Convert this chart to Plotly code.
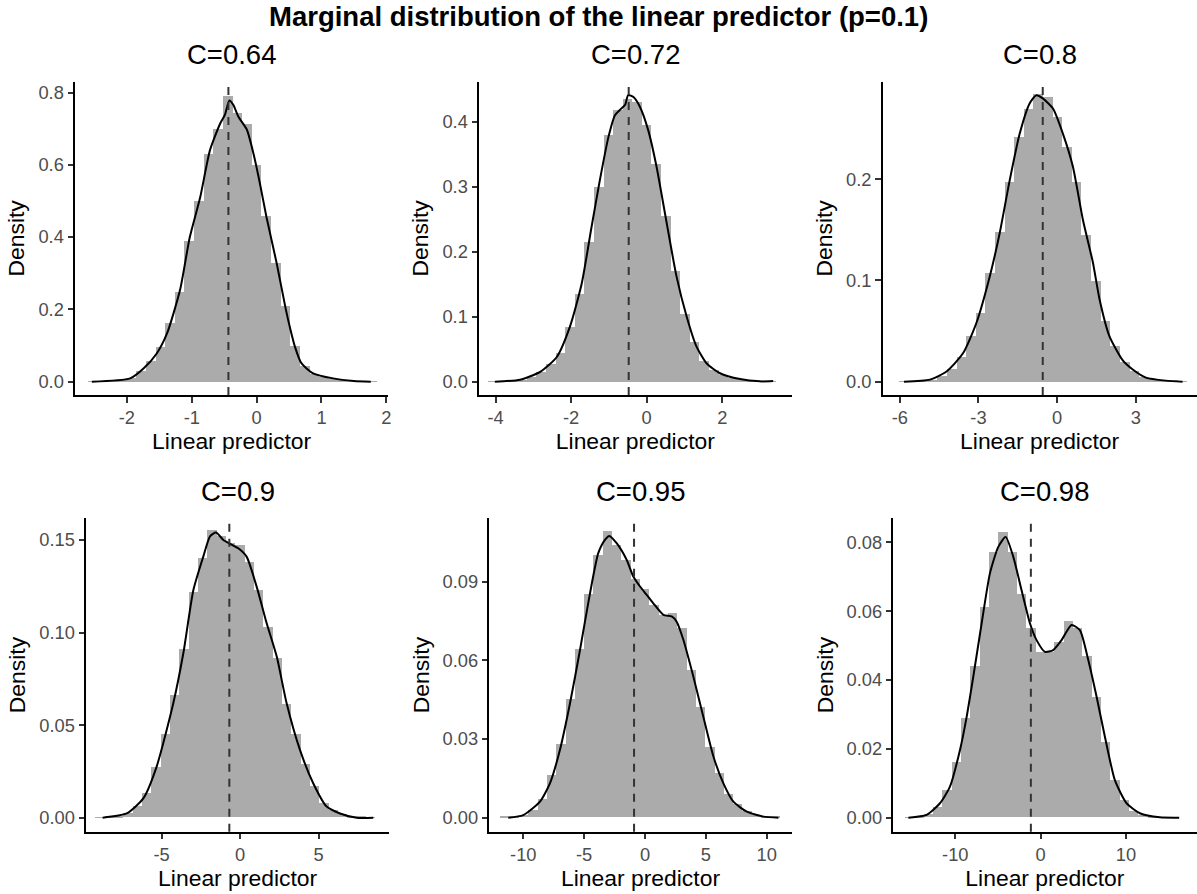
import plotly.graph_objects as go

# ---------------- data ----------------
main_title = "Marginal distribution of the linear predictor (p=0.1)"
panel_titles = ["C=0.64", "C=0.72", "C=0.8", "C=0.9", "C=0.95", "C=0.98"]
x_label = "Linear predictor"
y_label = "Density"

# mean of the linear predictor (dashed line)
means = [-0.435, -0.476, -0.55, -0.68, -0.90, -1.14]

# histogram: bin width, index of first bin centre (centre = index * width), heights
bin_widths = [0.1483, 0.254, 0.366, 0.594, 0.765, 1.095]
first_bin = [-17, -16, -16, -15, -15, -14]

hist_1 = [0.0005, 0.001, 0.003, 0.005, 0.011, 0.030, 0.058, 0.097, 0.162, 0.250,
          0.390, 0.500, 0.630, 0.700, 0.790, 0.745, 0.715, 0.600, 0.460, 0.330,
          0.210, 0.100, 0.043, 0.022, 0.014, 0.009, 0.005, 0.002, 0.001, 0.0005]
hist_2 = [0.0005, 0.001, 0.002, 0.003, 0.008, 0.016, 0.028, 0.045, 0.085, 0.135,
          0.215, 0.300, 0.380, 0.418, 0.435, 0.430, 0.395, 0.335, 0.255, 0.170,
          0.105, 0.062, 0.032, 0.018, 0.010, 0.006, 0.003, 0.002, 0.001, 0.0005]
hist_3 = [0.0003, 0.0005, 0.001, 0.002, 0.006, 0.013, 0.025, 0.045, 0.068, 0.108,
          0.148, 0.198, 0.242, 0.270, 0.285, 0.282, 0.262, 0.232, 0.198, 0.145,
          0.100, 0.060, 0.036, 0.020, 0.011, 0.005, 0.003, 0.0015, 0.001, 0.0003]
hist_4 = [0.0002, 0.0005, 0.001, 0.0025, 0.006, 0.013, 0.027, 0.045, 0.066, 0.091,
          0.122, 0.140, 0.155, 0.152, 0.148, 0.147, 0.138, 0.123, 0.103, 0.086,
          0.061, 0.045, 0.029, 0.017, 0.008, 0.004, 0.002, 0.001, 0.0005, 0.0002]
hist_5 = [0.0002, 0.0004, 0.001, 0.003, 0.007, 0.016, 0.028, 0.045, 0.064, 0.085,
          0.100, 0.109, 0.104, 0.098, 0.091, 0.087, 0.081, 0.077, 0.078, 0.072,
          0.056, 0.042, 0.027, 0.017, 0.009, 0.005, 0.0025, 0.001, 0.0005, 0.0002]
hist_6 = [0.0001, 0.0003, 0.001, 0.003, 0.008, 0.016, 0.029, 0.044, 0.061, 0.077,
          0.083, 0.077, 0.065, 0.055, 0.048, 0.048, 0.051, 0.057, 0.055, 0.047,
          0.035, 0.022, 0.011, 0.005, 0.002, 0.0008, 0.0003, 0.0001, 0.0001, 0.0]

# kernel density curves
dens_x_1 = [-2.54, -1.95, -1.74, -1.54, -1.38, -1.18, -1.03, -0.87, -0.72, -0.56,
            -0.49, -0.42, -0.36, -0.28, -0.15, -0.05, 0.05, 0.15, 0.31, 0.45,
            0.52, 0.59, 0.69, 0.87, 1.18, 1.50, 1.76]
dens_y_1 = [0.0, 0.009, 0.037, 0.078, 0.134, 0.254, 0.40, 0.51, 0.64, 0.715,
            0.738, 0.778, 0.766, 0.733, 0.697, 0.632, 0.549, 0.457, 0.327, 0.200,
            0.145, 0.097, 0.051, 0.023, 0.009, 0.002, 0.0]
dens_x_2 = [-4.02, -3.35, -2.82, -2.38, -2.03, -1.72, -1.46, -1.24, -1.01, -0.84,
            -0.71, -0.57, -0.49, -0.35, -0.18, 0.04, 0.26, 0.53, 0.79, 1.06,
            1.32, 1.59, 1.94, 2.47, 3.0, 3.35]
dens_y_2 = [0.0, 0.003, 0.015, 0.038, 0.085, 0.151, 0.238, 0.310, 0.377, 0.410,
            0.418, 0.426, 0.441, 0.438, 0.423, 0.387, 0.331, 0.244, 0.162, 0.100,
            0.054, 0.028, 0.013, 0.004, 0.0005, 0.001]
dens_x_3 = [-5.84, -4.85, -4.22, -3.59, -3.08, -2.57, -2.19, -1.81, -1.43, -1.05,
            -0.80, -0.55, -0.16, 0.22, 0.60, 0.98, 1.36, 1.61, 1.99, 2.50,
            2.88, 3.38, 4.14, 4.78]
dens_y_3 = [0.0, 0.002, 0.010, 0.028, 0.058, 0.104, 0.147, 0.199, 0.245, 0.275,
            0.283, 0.280, 0.270, 0.245, 0.2125, 0.160, 0.118, 0.082, 0.045, 0.021,
            0.012, 0.004, 0.001, 0.0]
dens_x_4 = [-8.75, -7.22, -6.16, -5.31, -4.25, -3.61, -2.97, -2.34, -1.91, -1.53,
            -1.06, -0.64, -0.11, 0.42, 1.06, 1.70, 2.34, 2.97, 3.82, 4.67,
            5.52, 6.37, 7.43, 8.49]
dens_y_4 = [0.0, 0.0023, 0.0104, 0.0276, 0.0618, 0.0888, 0.123, 0.141, 0.152, 0.154,
            0.150, 0.148, 0.1455, 0.141, 0.1248, 0.105, 0.087, 0.0618, 0.0366, 0.0185,
            0.006, 0.0023, 0.0, 0.0]
dens_x_5 = [-11.23, -10.0, -8.63, -7.81, -6.99, -6.16, -5.34, -4.52, -3.84, -3.29,
            -2.93, -2.33, -1.51, -0.96, -0.41, 0.14, 0.68, 1.51, 2.19, 2.60,
            3.15, 3.97, 4.79, 5.62, 6.44, 7.26, 8.36, 9.73, 10.96]
dens_y_5 = [0.0, 0.001, 0.0061, 0.0131, 0.0258, 0.0436, 0.0639, 0.0855, 0.1008, 0.1059,
            0.1074, 0.1046, 0.0983, 0.0919, 0.0881, 0.0849, 0.0817, 0.0773, 0.0767, 0.0747,
            0.0678, 0.0538, 0.0385, 0.0233, 0.0131, 0.0061, 0.0023, 0.0004, 0.0]
dens_x_6 = [-15.5, -13.36, -11.80, -10.63, -9.45, -8.67, -7.89, -6.91, -5.94, -4.96,
            -4.10, -3.20, -2.23, -1.25, -0.47, 0.51, 1.48, 2.46, 3.63, 4.61,
            5.59, 6.56, 7.54, 8.71, 10.08, 11.64, 13.98, 16.25]
dens_y_6 = [0.0, 0.0008, 0.0042, 0.0090, 0.0197, 0.0293, 0.041, 0.0565, 0.071, 0.0787,
            0.0816, 0.0758, 0.0661, 0.0565, 0.0516, 0.0482, 0.0487, 0.0516, 0.056, 0.0545,
            0.0458, 0.0352, 0.0235, 0.0109, 0.0042, 0.0013, 0.0001, 0.0]

# axis ticks
x_ticks = [[-2, -1, 0, 1, 2], [-4, -2, 0, 2], [-6, -3, 0, 3],
           [-5, 0, 5], [-10, -5, 0, 5, 10], [-10, 0, 10]]
x_tick_text = [["-2", "-1", "0", "1", "2"], ["-4", "-2", "0", "2"], ["-6", "-3", "0", "3"],
               ["-5", "0", "5"], ["-10", "-5", "0", "5", "10"], ["-10", "0", "10"]]
y_ticks = [[0, 0.2, 0.4, 0.6, 0.8], [0, 0.1, 0.2, 0.3, 0.4], [0, 0.1, 0.2],
           [0, 0.05, 0.10, 0.15], [0, 0.03, 0.06, 0.09], [0, 0.02, 0.04, 0.06, 0.08]]
y_tick_text = [["0.0", "0.2", "0.4", "0.6", "0.8"], ["0.0", "0.1", "0.2", "0.3", "0.4"],
               ["0.0", "0.1", "0.2"], ["0.00", "0.05", "0.10", "0.15"],
               ["0.00", "0.03", "0.06", "0.09"], ["0.00", "0.02", "0.04", "0.06", "0.08"]]

hists = [hist_1, hist_2, hist_3, hist_4, hist_5, hist_6]
dens_x = [dens_x_1, dens_x_2, dens_x_3, dens_x_4, dens_x_5, dens_x_6]
dens_y = [dens_y_1, dens_y_2, dens_y_3, dens_y_4, dens_y_5, dens_y_6]

# ---------------- layout geometry (pixels) ----------------
W, H = 1197, 894
x_ranges = [[-2.80, 2.03], [-4.44, 3.84], [-6.65, 5.31],
            [-9.81, 9.51], [-12.79, 12.05], [-17.27, 18.28]]
y_ranges = [[-0.037, 0.830], [-0.0205, 0.4615], [-0.0132, 0.2965],
            [-0.00756, 0.1617], [-0.00534, 0.1141], [-0.00407, 0.0870]]
px_cols = [[75, 388.3], [479, 791.7], [882.7, 1196.5],
           [86, 389.3], [489.3, 791.7], [893.3, 1196.5]]
px_rows = [[81.7, 395], [81.7, 395], [81.7, 395],
           [518.3, 831.7], [518.3, 831.7], [518.3, 831.7]]

FONT = "Liberation Sans, Arial, sans-serif"
BAR_COLOR = "#ABABAB"
TITLE_SIZE = 27.5
AXIS_TITLE_SIZE = 22.9
TICK_SIZE = 18.3

fig = go.Figure()
annotations = []
shapes = []

for i in range(6):
    n = i + 1
    xa = "x" if n == 1 else f"x{n}"
    ya = "y" if n == 1 else f"y{n}"
    w = bin_widths[i]
    centers = [(first_bin[i] + k) * w for k in range(len(hists[i]))]
    fig.add_trace(go.Bar(x=centers, y=hists[i], width=w, marker=dict(color=BAR_COLOR, line=dict(width=0)),
                         xaxis=xa, yaxis=ya, showlegend=False, hoverinfo="skip"))
    fig.add_trace(go.Scatter(x=dens_x[i], y=dens_y[i], mode="lines",
                             line=dict(color="black", width=2, shape="spline", smoothing=0.6),
                             xaxis=xa, yaxis=ya, showlegend=False))
    shapes.append(dict(type="line", xref=xa, yref=f"{ya} domain", x0=means[i], x1=means[i],
                       y0=0, y1=1, line=dict(color="#333333", width=2, dash="8px,7px")))

    x0p, x1p = px_cols[i]
    y0p, y1p = px_rows[i]
    xdom = [x0p / W, x1p / W]
    ydom = [1 - y1p / H, 1 - y0p / H]
    axis_common = dict(showline=True, linecolor="black", linewidth=2, showgrid=False, zeroline=False,
                       ticks="outside", ticklen=5.5, tickwidth=2, tickcolor="#333333",
                       tickfont=dict(family=FONT, size=TICK_SIZE, color="#4D4D4D"), automargin=False)
    fig.layout[f"xaxis{'' if n == 1 else n}"] = dict(
        domain=xdom, anchor=ya, range=x_ranges[i], tickmode="array",
        tickvals=x_ticks[i], ticktext=x_tick_text[i],
        title=dict(text=x_label, font=dict(family=FONT, size=AXIS_TITLE_SIZE, color="black"), standoff=5),
        **axis_common)
    fig.layout[f"yaxis{'' if n == 1 else n}"] = dict(
        domain=ydom, anchor=xa, range=y_ranges[i], tickmode="array",
        tickvals=y_ticks[i], ticktext=y_tick_text[i],
        title=dict(text=y_label, font=dict(family=FONT, size=AXIS_TITLE_SIZE, color="black"), standoff=7),
        **axis_common)
    annotations.append(dict(text=panel_titles[i], xref="paper", yref="paper",
                            x=(x0p + x1p) / 2 / W, y=1 - (y0p - 27) / H,
                            xanchor="center", yanchor="middle", showarrow=False,
                            font=dict(family=FONT, size=TITLE_SIZE, color="black")))

annotations.append(dict(text=f"<b>{main_title}</b>", xref="paper", yref="paper",
                        x=0.5, y=1 - 16 / H, xanchor="center", yanchor="middle", showarrow=False,
                        font=dict(family=FONT, size=TITLE_SIZE, color="black")))

fig.update_layout(width=W, height=H, margin=dict(l=0, r=0, t=0, b=0),
                  plot_bgcolor="white", paper_bgcolor="white",
                  barmode="overlay", bargap=0,
                  annotations=annotations, shapes=shapes,
                  font=dict(family=FONT))

fig.write_html("out.html", config={"displayModeBar": False},
               post_script="document.body.style.margin='0';")
